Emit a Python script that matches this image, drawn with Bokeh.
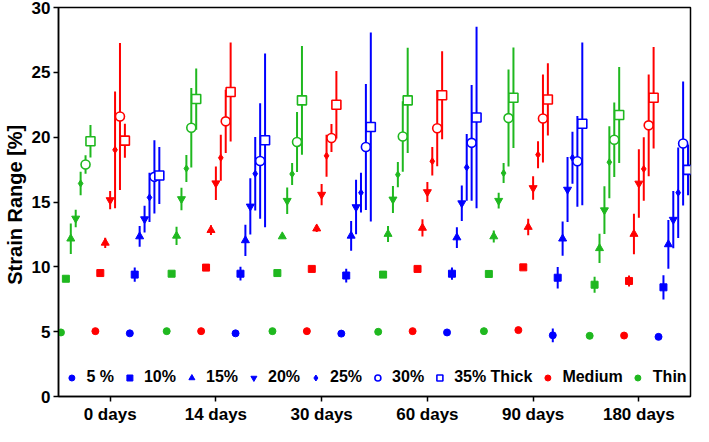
from bokeh.plotting import figure
from bokeh.models import Legend, LegendItem, FixedTicker, Range1d
from bokeh.embed import file_html
from bokeh.resources import INLINE

days = ["0 days", "14 days", "30 days", "60 days", "90 days", "180 days"]
strain_labels = ["5 %", "10%", "15%", "20%", "25%", "30%", "35% Thick"]
y_ticks = [0, 5, 10, 15, 20, 25, 30]

# Strain range [%] : rows = day group, columns = 5%..35% applied strain
thin_mean = [
    [4.94, 9.08, 12.17, 13.73, 16.43, 17.89, 19.68],
    [5.04, 9.47, 12.39, 15.23, 17.58, 20.73, 22.94],
    [5.04, 9.52, 12.34, 15.10, 17.16, 19.63, 22.84],
    [4.99, 9.40, 12.53, 15.20, 17.11, 20.05, 22.84],
    [5.04, 9.45, 12.34, 15.10, 17.23, 21.47, 23.04],
    [4.68, 8.62, 11.43, 14.37, 18.07, 19.80, 21.71],
]
thin_sd = [
    [0.20, 0.15, 1.18, 0.68, 0.90, 0.71, 1.25],
    [0.00, 0.15, 0.71, 0.87, 1.04, 3.07, 2.36],
    [0.00, 0.00, 0.15, 1.02, 0.84, 2.31, 4.20],
    [0.00, 0.00, 0.61, 1.04, 0.98, 2.72, 4.06],
    [0.00, 0.15, 0.46, 0.61, 0.77, 3.74, 3.88],
    [0.00, 0.62, 1.13, 1.84, 2.78, 2.87, 3.71],
]
medium_mean = [
    [5.04, 9.52, 11.85, 15.15, 19.02, 21.59, 19.73],
    [5.04, 9.94, 12.83, 16.45, 18.41, 21.22, 23.48],
    [5.04, 9.84, 12.95, 15.57, 18.56, 19.93, 22.50],
    [5.04, 9.84, 13.00, 15.77, 18.14, 20.69, 23.23],
    [5.12, 9.96, 13.07, 16.08, 18.65, 21.44, 22.91],
    [4.70, 8.91, 12.53, 16.43, 17.55, 20.91, 23.04],
]
medium_sd = [
    [0.00, 0.00, 0.40, 0.70, 4.50, 5.67, 1.31],
    [0.00, 0.00, 0.38, 1.29, 1.78, 2.44, 3.82],
    [0.00, 0.00, 0.27, 0.82, 1.62, 1.08, 2.60],
    [0.00, 0.00, 0.67, 0.77, 1.10, 2.94, 3.40],
    [0.00, 0.00, 0.64, 0.90, 1.04, 3.40, 2.79],
    [0.00, 0.42, 1.56, 2.64, 2.45, 3.92, 3.92],
]
thick_mean = [
    [4.87, 9.40, 12.34, 13.68, 15.35, 16.94, 17.04],
    [4.87, 9.47, 12.04, 14.66, 17.18, 18.16, 19.76],
    [4.85, 9.33, 12.39, 14.61, 15.72, 19.24, 20.78],
    [4.94, 9.47, 12.26, 14.91, 17.67, 19.56, 21.52],
    [4.72, 9.16, 12.17, 15.96, 18.41, 18.14, 21.03],
    [4.60, 8.42, 11.73, 13.64, 15.72, 19.51, 17.48],
]
thick_sd = [
    [0.00, 0.55, 0.80, 1.04, 1.90, 2.82, 2.20],
    [0.00, 0.53, 1.20, 2.17, 2.83, 4.45, 6.70],
    [0.00, 0.53, 1.15, 2.10, 1.53, 4.86, 7.29],
    [0.00, 0.47, 0.80, 1.37, 2.58, 4.46, 7.00],
    [0.53, 0.83, 1.32, 2.51, 2.00, 3.50, 6.28],
    [0.00, 0.93, 1.88, 2.20, 3.49, 4.78, 1.96],
]

GROUP = 21.5
FONT = "Liberation Sans"

series = [
    ("Thin", thin_mean, thin_sd, "#1fb81f"),
    ("Medium", medium_mean, medium_sd, "#ff0000"),
    ("Thick", thick_mean, thick_sd, "#0000ff"),
]
# marker, size, filled
marker_styles = [
    ("circle", 7, True),
    ("square", 7, True),
    ("triangle", 8, True),
    ("inverted_triangle", 8, True),
    ("diamond", 7, True),
    ("circle", 9, False),
    ("square", 9, False),
]

p = figure(width=693, height=426, output_backend="svg", toolbar_location=None,
           x_range=Range1d(-10.5, 5 * GROUP + 10.5), y_range=Range1d(0, 30),
           min_border_top=7, min_border_right=3, min_border_bottom=24, min_border_left=5)

renderers = {}
for t, (name, mean, sd, color) in enumerate(series):
    renderers[name] = []
    for s, (marker, size, filled) in enumerate(marker_styles):
        xs = [g * GROUP + t * 7 + s - 10 for g in range(len(days))]
        ys = [mean[g][s] for g in range(len(days))]
        es = [sd[g][s] for g in range(len(days))]
        p.segment(x0=xs, y0=[y - e for y, e in zip(ys, es)],
                  x1=xs, y1=[y + e for y, e in zip(ys, es)],
                  line_color=color, line_width=2)
        r = p.scatter(x=xs, y=ys, marker=marker, size=size,
                      line_color=color, line_width=1.6 if not filled else 1,
                      fill_color=color if filled else "white")
        renderers[name].append(r)

items = [LegendItem(label=strain_labels[s], renderers=[renderers["Thick"][s]]) for s in range(7)]
items.append(LegendItem(label="Medium", renderers=[renderers["Medium"][0]]))
items.append(LegendItem(label="Thin", renderers=[renderers["Thin"][0]]))
legend = Legend(items=items, orientation="horizontal", location="bottom_center",
                glyph_width=20, glyph_height=15, label_standoff=5, spacing=5,
                padding=0, margin=10, border_line_color=None, background_fill_alpha=0,
                label_text_font=FONT, label_text_font_style="bold",
                label_text_font_size="16px", label_height=18, label_text_color="black")
p.add_layout(legend)

p.xgrid.visible = False
p.ygrid.visible = False
p.outline_line_color = "black"
p.outline_line_width = 1.5

p.xaxis.ticker = FixedTicker(ticks=[g * GROUP for g in range(len(days))])
p.xaxis.major_label_overrides = {g * GROUP: days[g] for g in range(len(days))}
p.yaxis.ticker = FixedTicker(ticks=y_ticks)
p.yaxis.axis_label = "Strain  Range [%]"
for ax in (p.xaxis, p.yaxis):
    ax.axis_line_width = 1.5
    ax.axis_line_color = "black"
    ax.major_tick_line_width = 1.5
    ax.major_tick_line_color = "black"
    ax.major_tick_in = 0
    ax.major_tick_out = 5
    ax.minor_tick_line_color = None
    ax.major_label_text_font = FONT
    ax.major_label_text_font_style = "bold"
    ax.major_label_text_font_size = "17px"
    ax.major_label_text_color = "black"
    ax.major_label_standoff = 3
p.yaxis.axis_label_text_font = FONT
p.yaxis.axis_label_text_font_style = "bold"
p.yaxis.axis_label_text_font_size = "20px"
p.yaxis.axis_label_text_color = "black"
p.yaxis.axis_label_standoff = 3

open("out.html", "w").write(file_html(p, INLINE))
